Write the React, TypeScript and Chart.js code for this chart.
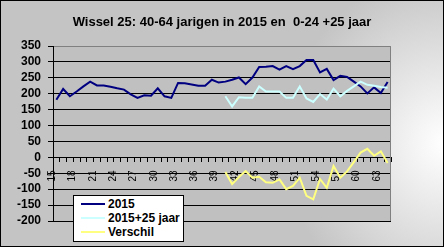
import React, { useEffect, useRef } from 'react';
import { Chart, registerables } from 'chart.js';

Chart.register(...registerables);

const ages = [
  15, 16, 17, 18, 19, 20, 21, 22, 23, 24, 25, 26, 27, 28, 29, 30, 31, 32, 33, 34, 35, 36, 37, 38, 39,
  40, 41, 42, 43, 44, 45, 46, 47, 48, 49, 50, 51, 52, 53, 54, 55, 56, 57, 58, 59, 60, 61, 62, 63, 64,
];

const xTickLabels = ['15', '18', '21', '24', '27', '30', '33', '36', '39', '42', '45', '48', '51', '54', '57', '60', '63'];

const series2015 = [
  181, 215, 192, 207, 223, 238, 226, 226, 222, 217, 213, 198, 187, 195, 194, 217, 192, 187, 234, 233, 229, 225, 225, 244, 235,
  238, 244, 251, 230, 251, 284, 285, 287, 276, 287, 277, 287, 306, 306, 267, 278, 243, 256, 253, 238, 223, 201, 220, 202, 237,
];

const series2015plus25 = [
  null, null, null, null, null, null, null, null, null, null, null, null, null, null, null, null, null, null, null, null, null, null, null, null, null,
  192, 160, 189, 187, 187, 223, 207, 207, 207, 187, 187, 223, 185, 174, 199, 182, 216, 192, 209, 223, 238, 228, 225, 221, 219,
];

const verschil = [
  null, null, null, null, null, null, null, null, null, null, null, null, null, null, null, null, null, null, null, null, null, null, null, null, null,
  -46, -84, -62, -43, -64, -61, -78, -80, -69, -100, -90, -64, -121, -132, -68, -96, -27, -64, -44, -15, 15, 27, 5, 19, -18,
];

const seriesNames = ['2015', '2015+25 jaar', 'Verschil'];
const seriesColors = ['#000080', '#ccffff', '#ffff80'];

const titleText = 'Wissel 25: 40-64 jarigen in 2015 en  0-24 +25 jaar';

const yMin = -200;
const yMax = 350;
const yStep = 50;

const FONT = '"Liberation Sans", Arial, sans-serif';

const plotBg = {
  id: 'plotBg',
  beforeDraw(chart: any) {
    const { ctx, chartArea } = chart;
    ctx.save();
    ctx.fillStyle = '#c0c0c0';
    ctx.fillRect(chartArea.left, chartArea.top, chartArea.right - chartArea.left, chartArea.bottom - chartArea.top);
    ctx.restore();
  },
  beforeDatasetsDraw(chart: any) {
    const { ctx, chartArea } = chart;
    ctx.save();
    ctx.strokeStyle = '#808080';
    ctx.lineWidth = 1;
    ctx.beginPath();
    ctx.moveTo(Math.round(chartArea.right) - 0.5, chartArea.top);
    ctx.lineTo(Math.round(chartArea.right) - 0.5, chartArea.bottom);
    ctx.stroke();
    ctx.restore();
  },
};

export default function App() {
  const canvasRef = useRef<HTMLCanvasElement | null>(null);

  useEffect(() => {
    document.body.style.margin = '0';
    const canvas = canvasRef.current;
    if (!canvas) return;
    const allData = [series2015, series2015plus25, verschil];
    const chart = new Chart(canvas, {
      type: 'line',
      data: {
        labels: ages.map(String),
        datasets: allData.map((d, i) => ({
          label: seriesNames[i],
          data: d,
          borderColor: seriesColors[i],
          backgroundColor: seriesColors[i],
          borderWidth: 2,
          pointRadius: 0,
          tension: 0,
          fill: false,
          spanGaps: false,
          order: 3 - i,
        })),
      },
      options: {
        animation: false,
        responsive: false,
        maintainAspectRatio: false,
        layout: { padding: { left: 0, right: 53, top: 46, bottom: 26 } },
        plugins: {
          legend: { display: false },
          title: { display: false },
          tooltip: { enabled: false },
        },
        scales: {
          x: {
            type: 'category',
            position: { y: 0 } as any,
            offset: true,
            afterFit(scale: any) {
              scale.height = 0;
            },
            grid: {
              display: true,
              drawOnChartArea: false,
              drawTicks: true,
              tickLength: 4,
              color: '#000000',
              tickColor: '#000000',
              offset: true,
            },
            border: { display: true, color: '#000000', width: 1 },
            ticks: {
              autoSkip: false,
              minRotation: 90,
              maxRotation: 90,
              padding: 9,
              labelOffset: -4,
              color: '#000000',
              font: { family: FONT, size: 10 },
              callback: (_v: any, idx: number) => {
                const lab = String(ages[idx]);
                return xTickLabels.includes(lab) ? lab : '';
              },
            },
          },
          y: {
            min: yMin,
            max: yMax,
            afterFit(scale: any) {
              scale.width = 53;
            },
            grid: {
              color: (c: any) => (c.tick && c.tick.value === yMax ? '#808080' : '#000000'),
              tickColor: '#000000',
              tickLength: 5,
              lineWidth: 1,
            },
            border: { display: true, color: '#000000', width: 1 },
            ticks: {
              stepSize: yStep,
              autoSkip: false,
              padding: 7,
              color: '#000000',
              font: { family: FONT, size: 12, weight: 'bold' },
            },
          },
        },
      },
      plugins: [plotBg],
    });
    return () => chart.destroy();
  }, []);

  const legendRows = seriesNames.map((name, i) => (
    <div key={name} style={{ position: 'absolute', left: 0, top: 0.5 + i * 14, height: 14, width: 108 }}>
      <div style={{ position: 'absolute', left: 7, top: 6, width: 24, height: 2, background: seriesColors[i] }} />
      <div style={{ position: 'absolute', left: 34, top: 0, lineHeight: '14px', whiteSpace: 'nowrap' }}>{name}</div>
    </div>
  ));

  return (
    <div
      style={{
        position: 'relative',
        width: 444,
        height: 247,
        overflow: 'hidden',
        background: 'radial-gradient(ellipse 160px 170px at 100% 58%, #ffffff 0%, #c4c4c4 100%)',
        fontFamily: FONT,
      }}
    >
      <canvas ref={canvasRef} width={444} height={247} style={{ position: 'absolute', left: 0, top: 0 }} />
      <div
        style={{
          position: 'absolute',
          left: 0,
          top: 13,
          width: 444,
          textAlign: 'center',
          font: `bold 13px ${FONT}`,
          lineHeight: '17px',
          whiteSpace: 'pre',
          color: '#000',
        }}
      >
        {titleText}
      </div>
      <div
        style={{
          position: 'absolute',
          left: 73,
          top: 195,
          width: 111,
          height: 47,
          boxSizing: 'border-box',
          background: '#ffffff',
          border: '1px solid #000000',
          font: `bold 12px ${FONT}`,
          color: '#000',
        }}
      >
        {legendRows}
      </div>
      <div
        style={{
          position: 'absolute',
          left: 0,
          top: 0,
          width: 444,
          height: 247,
          boxSizing: 'border-box',
          border: '1px solid #000000',
          pointerEvents: 'none',
        }}
      />
    </div>
  );
}
